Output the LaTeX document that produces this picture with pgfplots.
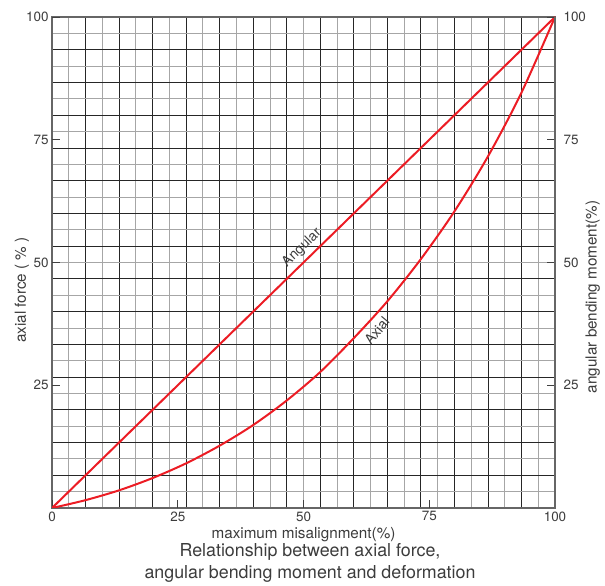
\documentclass[border=0pt]{standalone}
\usepackage{fontspec}
\setmainfont{TeX Gyre Heros}
\usepackage{pgfplots}
\pgfplotsset{compat=1.18}
\definecolor{curvered}{RGB}{236,28,36}
\definecolor{txt}{RGB}{60,60,60}

\begin{document}
\begin{tikzpicture}
\begin{axis}[
  at={(0,0)}, anchor=south west,
  width=503bp, height=491bp, scale only axis,
  xmin=0, xmax=100, ymin=0, ymax=100,
  xtick={0,6.6667,13.3333,20,26.6667,33.3333,40,46.6667,53.3333,60,66.6667,73.3333,80,86.6667,93.3333,100},
  ytick={0,6.6667,13.3333,20,26.6667,33.3333,40,46.6667,53.3333,60,66.6667,73.3333,80,86.6667,93.3333,100},
  minor xtick={3.3333,10,16.6667,23.3333,30,36.6667,43.3333,50,56.6667,63.3333,70,76.6667,83.3333,90,96.6667},
  minor ytick={3.3333,10,16.6667,23.3333,30,36.6667,43.3333,50,56.6667,63.3333,70,76.6667,83.3333,90,96.6667},
  xticklabels={}, yticklabels={},
  major tick length=0pt, minor tick length=0pt,
  xmajorgrids, ymajorgrids, xminorgrids, yminorgrids,
  major grid style={black!85, line width=0.8bp},
  minor grid style={black!35, line width=0.9bp},
  axis line style={black!60, line width=1.4bp},
  extra x ticks={0,25,50,75,100},
  extra x tick labels={0,25,50,75,100},
  extra y ticks={25,50,75,100},
  extra y tick labels={25,50,75,100},
  extra tick style={grid=none, major tick length=8bp, tick style={black!75, line width=0.8bp}},
  xtick pos=bottom, ytick pos=left, tick align=inside,
  /pgf/number format/assume math mode=true,
  tick label style={font=\fontsize{13.5}{16}\selectfont, text=txt},
  xlabel={maximum misalignment(\%)},
  xlabel style={font=\fontsize{15.3}{18}\selectfont, text=txt, at={(axis description cs:0.5,-0.055)}, anchor=center},
  ylabel={axial force ( \% )},
  ylabel style={font=\fontsize{15.3}{18}\selectfont, text=txt, at={(axis description cs:-0.06,0.444)}, anchor=center},
]
% angular: straight line
\addplot[curvered, line width=2bp] coordinates {(0,0) (100,100)};
% axial
\addplot[curvered, line width=2bp, smooth] coordinates {
(0,0) (6.667,1.6) (13.333,3.6) (20,6.1) (26.667,9.1) (33.333,12.7) (40,16.9)
(46.667,21.9) (53.333,27.7) (60,34.6) (66.667,42.1) (73.333,50.7)
(80,60.4) (86.667,71.6) (93.333,84.6) (100,100)};
\node[rotate=44, font=\fontsize{14}{16}\selectfont, text=txt] at (axis cs:49.7,53.0) {Angular};
\node[rotate=50, font=\fontsize{14}{16}\selectfont, text=txt] at (axis cs:64.6,36.1) {Axial};
\end{axis}
\begin{axis}[
  at={(0,0)}, anchor=south west,
  width=503bp, height=491bp, scale only axis,
  xmin=0, xmax=100, ymin=0, ymax=100,
  hide x axis,
  axis y line*=right,
  ytick={25,50,75,100},
  tick align=inside,
  major tick length=8bp,
  tick style={black!75, line width=0.8bp},
  axis line style={black!60, line width=1.4bp},
  /pgf/number format/assume math mode=true,
  yticklabel style={font=\fontsize{13.5}{16}\selectfont, text=txt, xshift=5bp},
  ylabel={angular bending moment(\%)},
  ylabel style={font=\fontsize{15.3}{18}\selectfont, text=txt, at={(axis description cs:1.075,0.43)}, anchor=center, rotate=0},
]
\end{axis}
\node[font=\fontsize{17.9}{21.5}\selectfont, text=txt, align=center] at (258bp,-55bp)
  {Relationship between axial force,\\angular bending moment and deformation};
\path[use as bounding box] (-52bp,-76bp) rectangle (553bp,508bp);
\end{tikzpicture}
\end{document}
